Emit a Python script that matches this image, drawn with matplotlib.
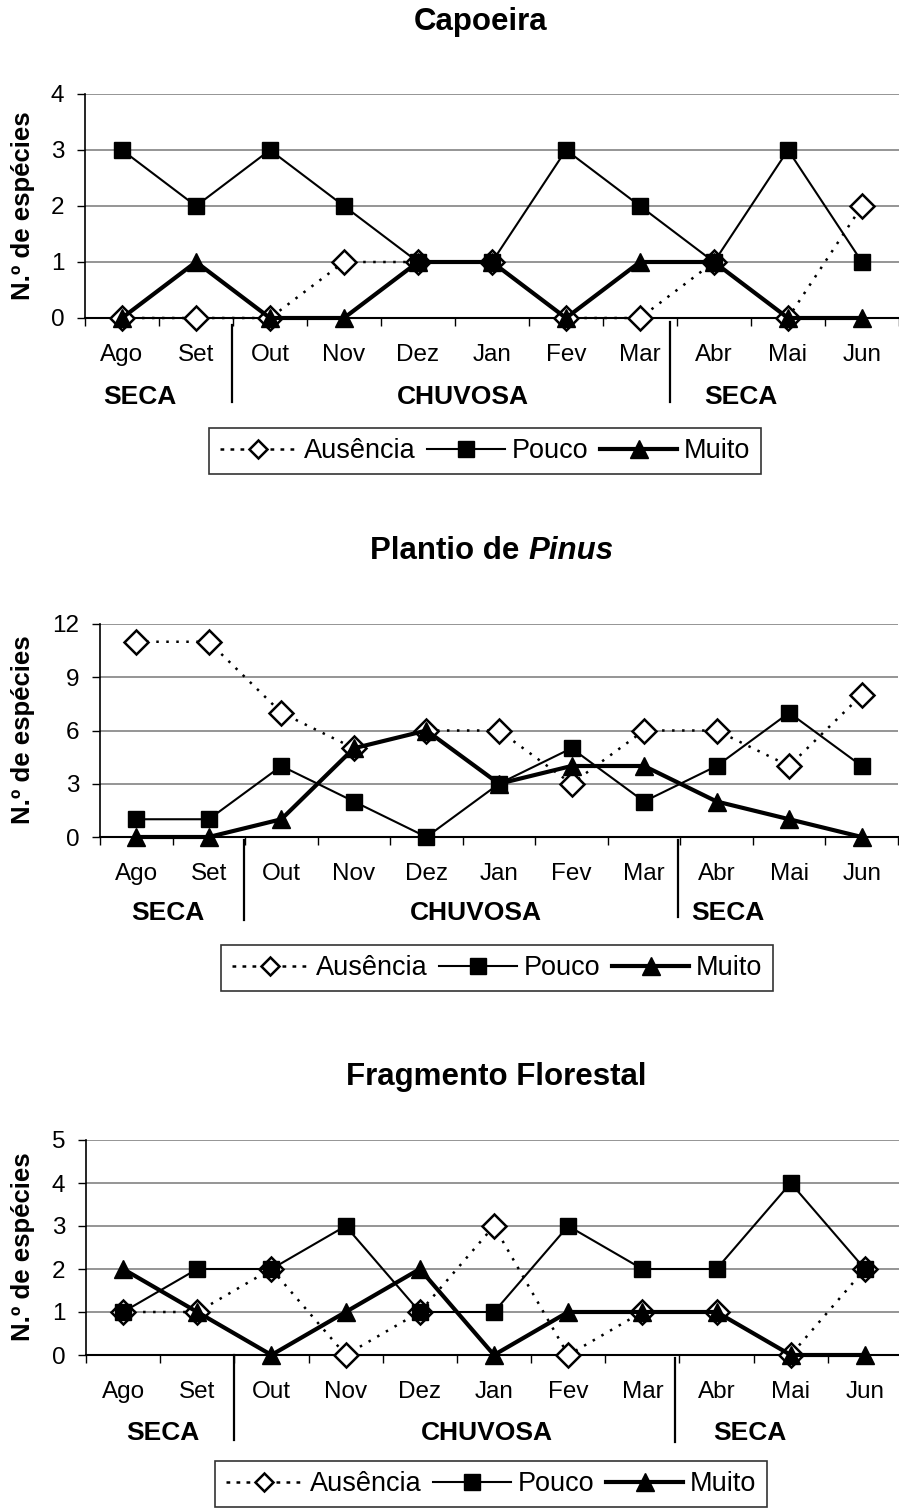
import matplotlib
matplotlib.use("Agg")
import numpy as np
import matplotlib.pyplot as plt
import matplotlib.transforms as mtransforms
from matplotlib.lines import Line2D

plt.rcParams['font.family'] = ['Liberation Sans', 'DejaVu Sans']

# ---- data -------------------------------------------------------------
months = ["Ago", "Set", "Out", "Nov", "Dez", "Jan", "Fev", "Mar", "Abr", "Mai", "Jun"]
series_names = ["Ausência", "Pouco", "Muito"]
season_names = ["SECA", "CHUVOSA", "SECA"]

capoeira_ausencia = [0, 0, 0, 1, 1, 1, 0, 0, 1, 0, 2]
capoeira_pouco = [3, 2, 3, 2, 1, 1, 3, 2, 1, 3, 1]
capoeira_muito = [0, 1, 0, 0, 1, 1, 0, 1, 1, 0, 0]
capoeira_yticks = [0, 1, 2, 3, 4]

pinus_ausencia = [11, 11, 7, 5, 6, 6, 3, 6, 6, 4, 8]
pinus_pouco = [1, 1, 4, 2, 0, 3, 5, 2, 4, 7, 4]
pinus_muito = [0, 0, 1, 5, 6, 3, 4, 4, 2, 1, 0]
pinus_yticks = [0, 3, 6, 9, 12]

fragmento_ausencia = [1, 1, 2, 0, 1, 3, 0, 1, 1, 0, 2]
fragmento_pouco = [1, 2, 2, 3, 1, 1, 3, 2, 2, 4, 2]
fragmento_muito = [2, 1, 0, 1, 2, 0, 1, 1, 1, 0, 0]
fragmento_yticks = [0, 1, 2, 3, 4, 5]

# ---- figure geometry (pixels) -----------------------------------------
W, H = 899, 1509
fig = plt.figure(figsize=(W / 100, H / 100), dpi=100)
fig.patch.set_facecolor("white")


def fx(px):
    return px / W


def fy(py):
    return 1 - py / H


panels = [
    dict(title="Capoeira", title_xy=(481, 22),
         aus=capoeira_ausencia, pou=capoeira_pouco, mui=capoeira_muito,
         yticks=capoeira_yticks, box=(85, 94, 899, 318),
         ylabel_y=206, sep=[(1.49, 325, 402), (7.4, 322, 402)],
         seasons=[(0.24, 397), (4.6, 397), (8.36, 397)],
         legend=(485, 451)),
    dict(title=None, title_xy=(492, 551),
         aus=pinus_ausencia, pou=pinus_pouco, mui=pinus_muito,
         yticks=pinus_yticks, box=(100, 624, 898, 837),
         ylabel_y=730, sep=[(1.49, 840, 920), (7.47, 840, 917)],
         seasons=[(0.43, 913), (4.68, 913), (8.15, 913)],
         legend=(497, 968)),
    dict(title="Fragmento Florestal", title_xy=(496, 1077),
         aus=fragmento_ausencia, pou=fragmento_pouco, mui=fragmento_muito,
         yticks=fragmento_yticks, box=(86, 1140, 902, 1355),
         ylabel_y=1247, sep=[(1.5, 1355, 1440), (7.44, 1358, 1442)],
         seasons=[(0.53, 1433), (4.9, 1433), (8.45, 1433)],
         legend=(491, 1484)),
]

x = np.arange(len(months))
title_fs = 22.5
tick_fs = 17.5
ytick_fs = 17.5
legend_fs = 19.5

for p in panels:
    l, t, r, b = p["box"]
    ax = fig.add_axes([fx(l), fy(b), (r - l) / W, (b - t) / H])
    ax.set_xlim(-0.5, len(months) - 0.5)
    ax.set_ylim(0, p["yticks"][-1])
    ax.set_yticks(p["yticks"])
    ax.yaxis.grid(True, color="#8c8c8c", lw=1.3)
    ax.set_axisbelow(True)
    for s in ("top", "right"):
        ax.spines[s].set_visible(False)
    ax.spines["left"].set_color("black")
    ax.spines["left"].set_linewidth(1.2)
    ax.spines["bottom"].set_color("black")
    ax.spines["bottom"].set_linewidth(1.5)
    ax.spines["bottom"].set_zorder(2.5)

    ax.set_xticks(x)
    ax.set_xticklabels(months, fontsize=tick_fs)
    ax.set_xticks(np.arange(-0.5, len(months), 1.0), minor=True)
    ax.tick_params(axis="x", which="major", length=0, pad=19)
    ax.tick_params(axis="x", which="minor", length=6, width=1, direction="out")
    ax.tick_params(axis="y", length=6, width=1, direction="out", pad=9,
                   labelsize=ytick_fs)

    ax.plot(x, p["aus"], color="black", lw=1.8, ls=(0, (1, 3)),
            marker="D", ms=12.5, mfc="white", mec="black", mew=1.8,
            zorder=3, clip_on=False)
    ax.plot(x, p["pou"], color="black", lw=1.5, marker="s", ms=11.5,
            zorder=4, clip_on=False)
    ax.plot(x, p["mui"], color="black", lw=3.0, marker="^", ms=13,
            zorder=5, clip_on=False)

    trans = mtransforms.blended_transform_factory(ax.transData, fig.transFigure)
    for sx, y0, y1 in p["sep"]:
        fig.add_artist(Line2D([sx, sx], [fy(y0), fy(y1)], transform=trans,
                              color="black", lw=1.6))
    for (sx, sy), name in zip(p["seasons"], season_names):
        ax.text(sx, fy(sy), name, transform=trans, ha="center", va="center",
                fontsize=19, fontweight="bold", clip_on=False)

    fig.text(fx(23), fy(p["ylabel_y"]), "N.º de espécies", rotation=90,
             ha="center", va="center", fontsize=18.5, fontweight="bold")

    handles = [
        Line2D([], [], color="black", lw=1.8, ls=(0, (1.5, 2.5)), marker="D",
               ms=9, mfc="white", mec="black", mew=1.8),
        Line2D([], [], color="black", lw=1.5, marker="s", ms=11),
        Line2D([], [], color="black", lw=3.0, marker="^", ms=13),
    ]
    cx, cy = p["legend"]
    leg = ax.legend(handles, series_names, loc="center",
                    bbox_to_anchor=(fx(cx), fy(cy)),
                    bbox_transform=fig.transFigure, ncol=3,
                    fontsize=legend_fs, frameon=True, fancybox=False,
                    edgecolor="black", handlelength=2.85, handletextpad=0.25,
                    columnspacing=0.45, borderpad=0.38, borderaxespad=0,
                    numpoints=1)
    leg.get_frame().set_linewidth(1.2)

    if p["title"] is not None:
        tx, ty = p["title_xy"]
        fig.text(fx(tx), fy(ty), p["title"], ha="center", va="center",
                 fontsize=title_fs, fontweight="bold")

# second panel title: upright part followed by the italic genus name
renderer = fig.canvas.get_renderer()
tx, ty = panels[1]["title_xy"]
part1 = fig.text(0, fy(ty), "Plantio de ", ha="left", va="center",
                 fontsize=title_fs, fontweight="bold")
part2 = fig.text(0, fy(ty), "Pinus", ha="left", va="center",
                 fontsize=title_fs, fontweight="bold", fontstyle="italic")
w1 = part1.get_window_extent(renderer).width
w2 = part2.get_window_extent(renderer).width
start = tx - (w1 + w2) / 2
part1.set_x(fx(start))
part2.set_x(fx(start + w1))

fig.savefig("out.png", dpi=100, facecolor="white")
